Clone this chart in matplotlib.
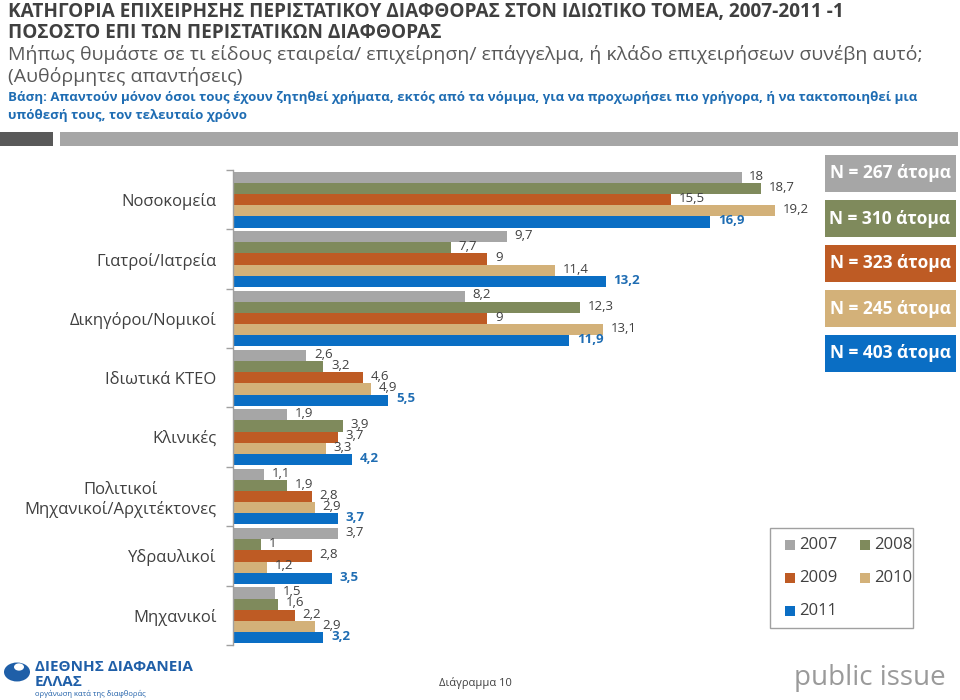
import matplotlib
matplotlib.use("Agg")
import matplotlib.pyplot as plt
from matplotlib.patches import Rectangle, Circle
import numpy as np

plt.rcParams['font.family'] = ['Open Sans', 'DejaVu Sans']

categories = ['Νοσοκομεία', 'Γιατροί/Ιατρεία', 'Δικηγόροι/Νομικοί', 'Ιδιωτικά ΚΤΕΟ',
              'Κλινικές', 'Πολιτικοί\nΜηχανικοί/Αρχιτέκτονες', 'Υδραυλικοί', 'Μηχανικοί']
years = ['2007', '2008', '2009', '2010', '2011']
v2007 = [18, 9.7, 8.2, 2.6, 1.9, 1.1, 3.7, 1.5]
v2008 = [18.7, 7.7, 12.3, 3.2, 3.9, 1.9, 1, 1.6]
v2009 = [15.5, 9, 9, 4.6, 3.7, 2.8, 2.8, 2.2]
v2010 = [19.2, 11.4, 13.1, 4.9, 3.3, 2.9, 1.2, 2.9]
v2011 = [16.9, 13.2, 11.9, 5.5, 4.2, 3.7, 3.5, 3.2]
sample_sizes = ['N = 267 άτομα', 'N = 310 άτομα', 'N = 323 άτομα', 'N = 245 άτομα', 'N = 403 άτομα']

series = [v2007, v2008, v2009, v2010, v2011]
colors = ['#A6A6A6', '#7F8A5C', '#BE5B24', '#D3B179', '#0A6EC4']
label_colors = ['#404040', '#404040', '#404040', '#404040', '#1F6DB3']

W, H = 960, 700
fig = plt.figure(figsize=(9.6, 7.0), dpi=100)

def fx(x):
    return x / W

def fy(y):
    return 1 - y / H

# Axes: left 233px, x 0..20 -> 233..798 ; y groups from 170 to 645
ax = fig.add_axes([fx(233), fy(645), (798 - 233) / W, (645 - 170) / H])
n = len(categories)
y = np.arange(n)
bh = 0.188
for k, (vals, c, lc) in enumerate(zip(series, colors, label_colors)):
    pos = y + (k - 2) * bh
    ax.barh(pos, vals, height=bh, color=c, edgecolor='none', label=years[k])
    for p, v in zip(pos, vals):
        txt = ('%g' % v).replace('.', ',')
        ax.text(v + 0.27, p - 0.02, txt, va='center', ha='left', fontsize=9.5,
                color=lc, fontweight='bold' if k == 4 else 'normal',
                family=['Open Sans', 'DejaVu Sans'])

ax.set_xlim(0, 20)
ax.set_ylim(n - 0.5, -0.5)
ax.set_yticks(y)
ax.set_yticklabels(categories, fontsize=12, color='#404040', multialignment='center')
ax.tick_params(axis='y', which='major', length=0, pad=12)
ax.set_yticks(np.arange(n + 1) - 0.5, minor=True)
ax.tick_params(axis='y', which='minor', length=5, color='#A0A0A0', width=1)
ax.set_xticks([])
for s in ['top', 'right', 'bottom']:
    ax.spines[s].set_visible(False)
ax.spines['left'].set_color('#A0A0A0')
ax.spines['left'].set_linewidth(1)

# Titles
title_font = ['Open Sans', 'DejaVu Sans']
fig.text(fx(8), fy(12), 'ΚΑΤΗΓΟΡΙΑ ΕΠΙΧΕΙΡΗΣΗΣ ΠΕΡΙΣΤΑΤΙΚΟΥ ΔΙΑΦΘΟΡΑΣ ΣΤΟΝ ΙΔΙΩΤΙΚΟ ΤΟΜΕΑ, 2007-2011 -1',
         fontsize=13.7, fontweight='bold', color='#404040', family=title_font, va='center', ha='left')
fig.text(fx(8), fy(33), 'ΠΟΣΟΣΤΟ ΕΠΙ ΤΩΝ ΠΕΡΙΣΤΑΤΙΚΩΝ ΔΙΑΦΘΟΡΑΣ',
         fontsize=13.7, fontweight='bold', color='#404040', family=title_font, va='center', ha='left')
fig.text(fx(8), fy(55), 'Μήπως θυμάστε σε τι είδους εταιρεία/ επιχείρηση/ επάγγελμα, ή κλάδο επιχειρήσεων συνέβη αυτό;',
         fontsize=14, color='#595959', va='center', ha='left')
fig.text(fx(8), fy(77), '(Αυθόρμητες απαντήσεις)', fontsize=14, color='#595959', va='center', ha='left')
fig.text(fx(8), fy(98), 'Βάση: Απαντούν μόνον όσοι τους έχουν ζητηθεί χρήματα, εκτός από τα νόμιμα, για να προχωρήσει πιο γρήγορα, ή να τακτοποιηθεί μια',
         fontsize=9.5, fontweight='bold', color='#1F6DB3', family=title_font, va='center', ha='left')
fig.text(fx(8), fy(115), 'υπόθεσή τους, τον τελευταίο χρόνο',
         fontsize=9.5, fontweight='bold', color='#1F6DB3', family=title_font, va='center', ha='left')

# decorative bars
fig.patches.append(Rectangle((fx(0), fy(146)), 53 / W, 14 / H, transform=fig.transFigure,
                             facecolor='#595959', edgecolor='none'))
fig.patches.append(Rectangle((fx(60), fy(146)), 898 / W, 14 / H, transform=fig.transFigure,
                             facecolor='#A6A6A6', edgecolor='none'))

# N boxes
box_tops = [155, 200, 245, 290, 335]
for t, c, s in zip(box_tops, colors, sample_sizes):
    fig.patches.append(Rectangle((fx(825), fy(t + 37)), 131 / W, 37 / H, transform=fig.transFigure,
                                 facecolor=c, edgecolor='none'))
    fig.text(fx(890), fy(t + 18.5), s, fontsize=12.5, fontweight='bold', color='white',
             ha='center', va='center')

# Legend
fig.patches.append(Rectangle((fx(770), fy(628)), 143 / W, 100 / H, transform=fig.transFigure,
                             facecolor='white', edgecolor='#A0A0A0', linewidth=1))
leg_pos = [(785, 545), (860, 545), (785, 578), (860, 578), (785, 611)]
for (lx, ly), c, yr in zip(leg_pos, colors, years):
    fig.patches.append(Rectangle((fx(lx), fy(ly + 5)), 10 / W, 10 / H, transform=fig.transFigure,
                                 facecolor=c, edgecolor='none'))
    fig.text(fx(lx + 14), fy(ly), yr, fontsize=12, color='#404040', ha='left', va='center')

# Footer
fig.text(fx(475), fy(683), 'Διάγραμμα 10', fontsize=8, color='#404040', ha='center', va='center')
fig.patches.append(Circle((fx(17), fy(672)), 13 / W, transform=fig.transFigure,
                          facecolor='#1F5FA8', edgecolor='none'))
fig.patches.append(Circle((fx(19), fy(667)), 5 / W, transform=fig.transFigure,
                          facecolor='white', edgecolor='none'))
fig.text(fx(35), fy(667), 'ΔΙΕΘΝΗΣ ΔΙΑΦΑΝΕΙΑ', fontsize=11, fontweight='bold', color='#1F5FA8',
         family=title_font, ha='left', va='center')
fig.text(fx(35), fy(682), 'ΕΛΛΑΣ', fontsize=11, fontweight='bold', color='#1F5FA8',
         family=title_font, ha='left', va='center')
fig.text(fx(35), fy(694), 'οργάνωση κατά της διαφθοράς', fontsize=5.5, color='#1F5FA8',
         ha='left', va='center')
fig.text(fx(870), fy(678), 'public issue', fontsize=20, color='#9A9A9A', ha='center', va='center')

fig.savefig('out.png', dpi=100)
